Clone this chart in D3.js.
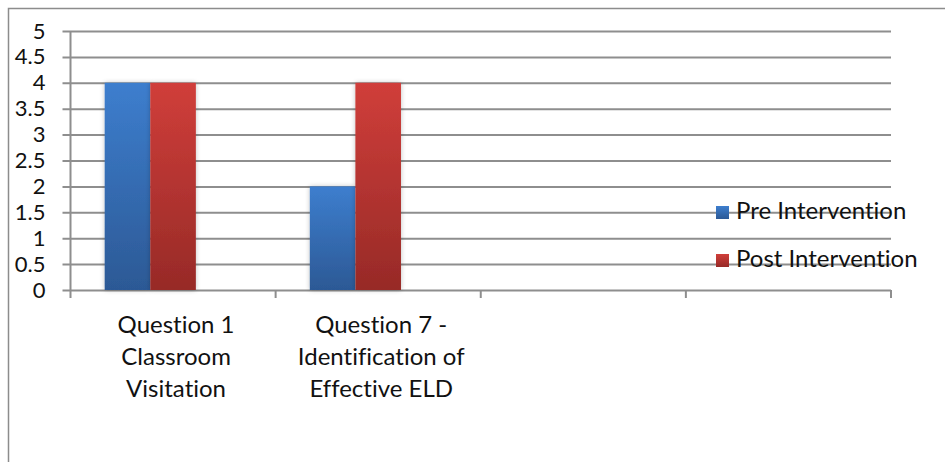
<!DOCTYPE html>
<html>
<head>
<meta charset="utf-8">
<script src="https://cdn.jsdelivr.net/npm/d3@7"></script>
<style>
  body { margin: 0; background: #fff; }
  text { font-family: Lato, "Open Sans", sans-serif; fill: #111; font-variant-ligatures: none; }
</style>
</head>
<body>
<div id="chart"></div>
<script>
// chart data
var categories = ["Question 1\nClassroom\nVisitation", "Question 7 -\nIdentification of\nEffective ELD", "", ""];
var seriesNames = ["Pre Intervention", "Post Intervention"];
var preValues = [4, 2, null, null];
var postValues = [4, 4, null, null];
var yTicks = [0, 0.5, 1, 1.5, 2, 2.5, 3, 3.5, 4, 4.5, 5];

var W = 945, H = 462;
var margin = {top: 31, right: 54, bottom: 172, left: 70.5},
    width = W - margin.left - margin.right,
    height = H - margin.top - margin.bottom;

var colors = [
  {top: "#3d7ece", bottom: "#2c5995"},
  {top: "#d03e3a", bottom: "#972a27"}
];

var svg = d3.select("#chart").append("svg")
    .attr("width", W)
    .attr("height", H);

// outer chart border (right/bottom fall outside the picture)
svg.append("rect")
    .attr("x", 8.5).attr("y", 8.5)
    .attr("width", 1000).attr("height", 1000)
    .attr("fill", "none")
    .attr("stroke", "#8c8c8c")
    .attr("stroke-width", 1.5);

var defs = svg.append("defs");
colors.forEach(function(c, i){
    var g = defs.append("linearGradient")
        .attr("id", "grad" + i)
        .attr("x1", 0).attr("y1", 0).attr("x2", 0).attr("y2", 1);
    g.append("stop").attr("offset", "0%").attr("stop-color", c.top);
    g.append("stop").attr("offset", "100%").attr("stop-color", c.bottom);
});
var shadow = defs.append("filter").attr("id", "shadow")
    .attr("x", "-20%").attr("y", "-10%").attr("width", "140%").attr("height", "120%");
shadow.append("feGaussianBlur").attr("in", "SourceAlpha").attr("stdDeviation", 2.5);
shadow.append("feComponentTransfer").append("feFuncA").attr("type", "linear").attr("slope", 0.25);
var merge = shadow.append("feMerge");
merge.append("feMergeNode");
merge.append("feMergeNode").attr("in", "SourceGraphic");

var g = svg.append("g")
    .attr("transform", "translate(" + margin.left + "," + margin.top + ")");

var x0 = d3.scaleBand()
    .domain(d3.range(categories.length))
    .range([0, width])
    .padding(0);

// three slots per category, the third one is an empty series
var x1 = d3.scaleBand()
    .domain([0, 1, 2])
    .range([0, x0.bandwidth()])
    .paddingInner(0)
    .paddingOuter(0.75);

var y = d3.scaleLinear()
    .domain([0, 5])
    .range([height, 0]);

// gridlines + y labels
var yAxis = g.append("g")
    .attr("class", "axis y")
    .call(d3.axisLeft(y).tickValues(yTicks).tickFormat(d3.format("")).tickSize(-width).tickPadding(25));
yAxis.select(".domain").remove();
yAxis.selectAll("line")
    .attr("x1", -8)
    .attr("stroke", "#8e8e8e")
    .attr("stroke-width", 2);
yAxis.selectAll("text")
    .style("font-family", "Lato, sans-serif")
    .style("font-size", "22px")
    .attr("fill", "#111");

// y axis line
g.append("line")
    .attr("x1", 0).attr("x2", 0)
    .attr("y1", y(5)).attr("y2", height + 8)
    .attr("stroke", "#8e8e8e").attr("stroke-width", 2);

// category tick marks at band edges
var edges = categories.map(function(d, i){ return x0(i); });
edges.push(x0(categories.length - 1) + x0.bandwidth());
g.selectAll(".xtick").data(edges.slice(1))
  .enter().append("line")
    .attr("class", "xtick")
    .attr("x1", function(d){ return d; })
    .attr("x2", function(d){ return d; })
    .attr("y1", height).attr("y2", height + 8)
    .attr("stroke", "#8e8e8e").attr("stroke-width", 2);

// bars
var seriesValues = [preValues, postValues];
seriesValues.forEach(function(vals, s){
    g.selectAll(".bar" + s)
        .data(vals.map(function(v, i){ return {i: i, v: v}; }).filter(function(d){ return d.v != null; }))
      .enter().append("rect")
        .attr("class", "bar" + s)
        .attr("x", function(d){ return x0(d.i) + x1(s); })
        .attr("y", function(d){ return y(d.v); })
        .attr("width", x1.bandwidth())
        .attr("height", function(d){ return height - y(d.v); })
        .attr("fill", "url(#grad" + s + ")")
        .attr("filter", "url(#shadow)");
});

// category labels
var catLabel = g.selectAll(".cat")
    .data(categories)
  .enter().append("text")
    .attr("class", "cat")
    .attr("text-anchor", "middle")
    .style("font-size", "24px")
    .attr("transform", function(d, i){ return "translate(" + (x0(i) + x0.bandwidth() / 2 + 3) + "," + (height + 43) + ")"; });
catLabel.selectAll("tspan")
    .data(function(d){ return d ? d.split("\n") : []; })
  .enter().append("tspan")
    .attr("x", 0)
    .attr("y", function(d, i){ return i * 32; })
    .text(function(d){ return d; });

// legend
var legend = svg.append("g")
    .attr("transform", "translate(716,0)");
var li = legend.selectAll(".leg")
    .data(seriesNames)
  .enter().append("g")
    .attr("class", "leg")
    .attr("transform", function(d, i){ return "translate(0," + (219 + i * 48) + ")"; });
li.append("rect")
    .attr("x", 0).attr("y", -13)
    .attr("width", 13).attr("height", 13)
    .attr("fill", function(d, i){ return "url(#grad" + i + ")"; });
li.append("text")
    .attr("x", 20).attr("y", 0)
    .style("font-size", "24px")
    .text(function(d){ return d; });
</script>
</body>
</html>
